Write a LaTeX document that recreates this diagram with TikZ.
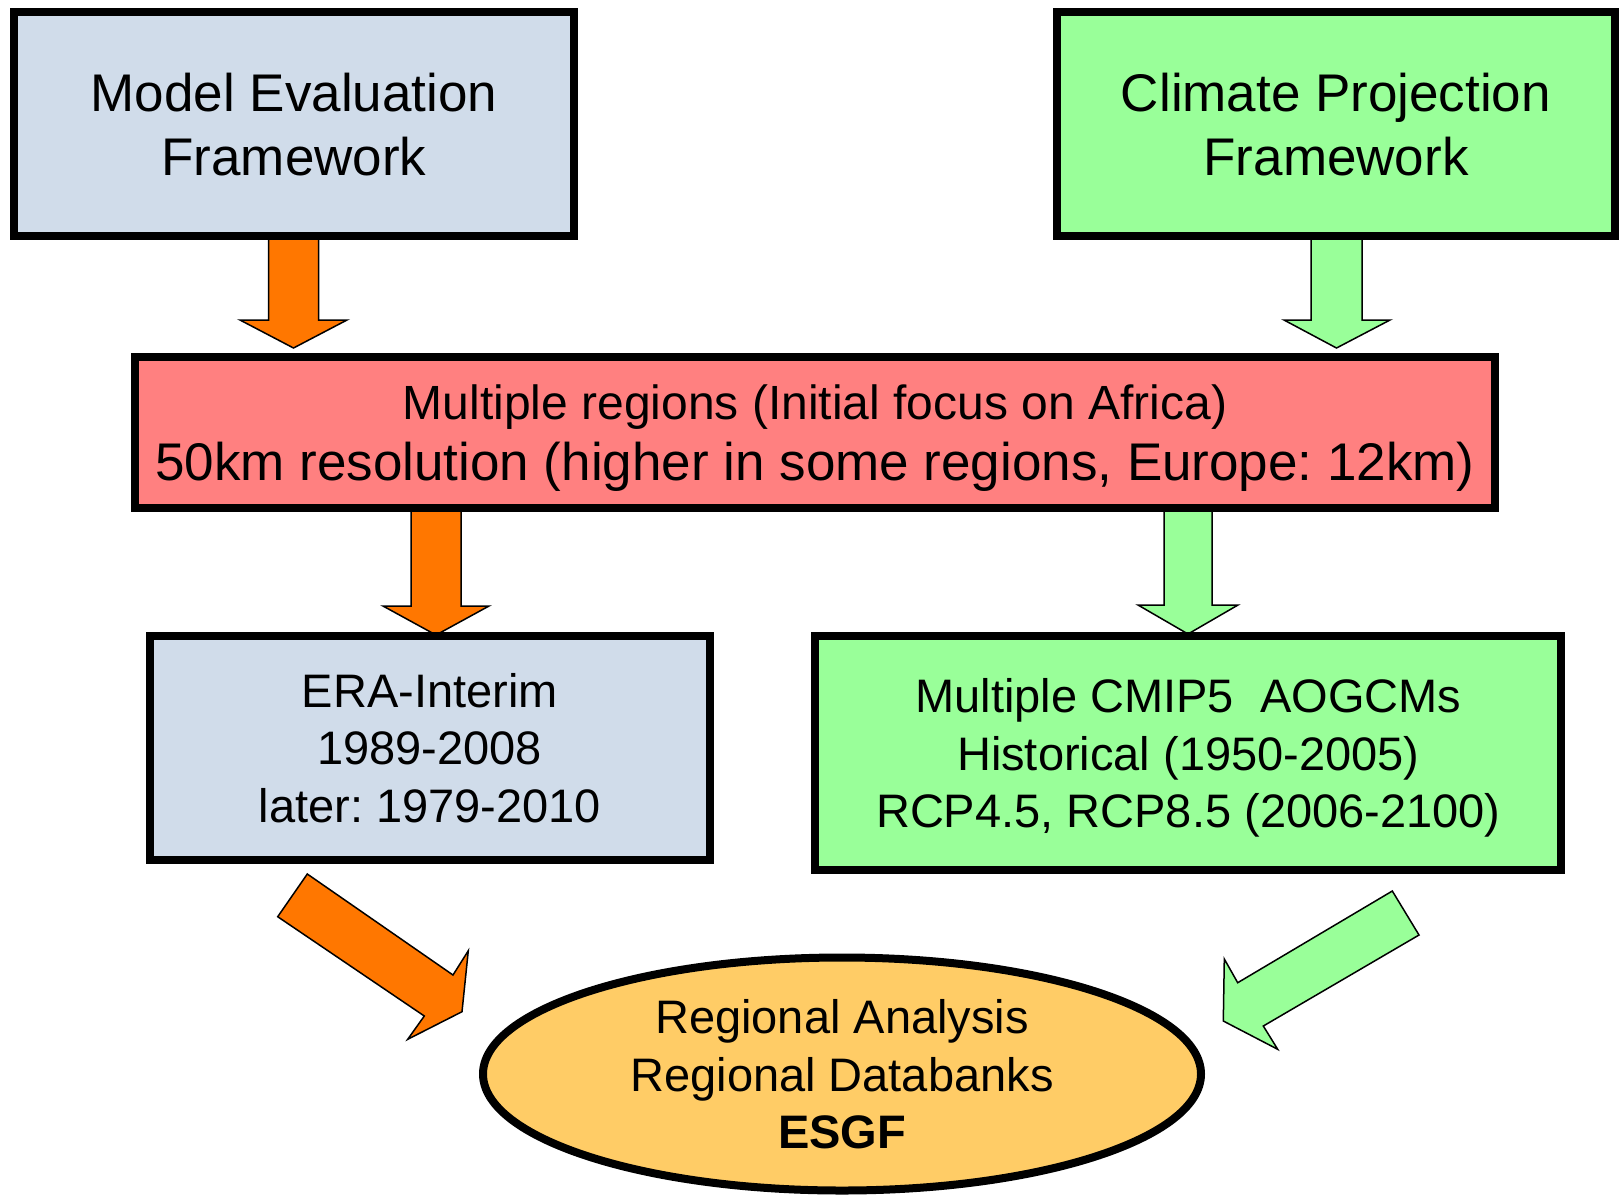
\documentclass[tikz,border=0pt]{standalone}
\usepackage{fontspec}
\setmainfont{Liberation Sans}
\usetikzlibrary{shapes.geometric}
\definecolor{bluegray}{RGB}{208,220,234}
\definecolor{lgreen}{RGB}{153,255,153}
\definecolor{salmon}{RGB}{255,128,128}
\definecolor{orng}{RGB}{255,119,0}
\definecolor{gold}{RGB}{255,204,102}
\frenchspacing
\begin{document}
\begin{tikzpicture}[x=1pt,y=-1pt,
  box/.style={draw=black, line width=8pt, inner sep=0pt, align=center, text depth=0pt},
  bigtext/.style={font=\fontsize{53}{64}\selectfont},
  midtext/.style={font=\fontsize{47}{57.5}\selectfont},
  blockarrow/.style={draw=black, line width=1.5pt, line join=miter}]
\useasboundingbox (0,0) rectangle (1622,1195);
\fill[white] (0,0) rectangle (1622,1195);

% vertical block arrows
\path[blockarrow, fill=orng] (268.5,230) -- (318.5,230) -- (318.5,320) -- (347,320) -- (293.5,348) -- (240,320) -- (268.5,320) -- cycle;
\path[blockarrow, fill=lgreen] (1311,230) -- (1362,230) -- (1362,320) -- (1390,320) -- (1336.5,348) -- (1284,320) -- (1311,320) -- cycle;
\path[blockarrow, fill=orng] (411,502) -- (461,502) -- (461,606) -- (489,606) -- (436,635) -- (383,606) -- (411,606) -- cycle;
\path[blockarrow, fill=lgreen] (1164,502) -- (1212,502) -- (1212,605) -- (1238,605) -- (1188,634) -- (1138,605) -- (1164,605) -- cycle;

% diagonal block arrows
\path[blockarrow, fill=orng] (307.3,874) -- (453,975) -- (468.3,950.7) -- (462,1011.7) -- (407.7,1039.3) -- (424.3,1016) -- (277.7,916.7) -- cycle;
\path[blockarrow, fill=lgreen] (1392.3,891) -- (1419,935) -- (1263.3,1026) -- (1277.7,1049.3) -- (1223.3,1021) -- (1224.3,959) -- (1237.7,982.7) -- cycle;

% boxes
\node[box, fill=bluegray, bigtext, minimum width=560pt, minimum height=224pt] (mef) at (294,124) {Model Evaluation\\Framework};
\node[box, fill=lgreen, bigtext, minimum width=558pt, minimum height=224pt] (cpf) at (1336,124) {Climate Projection\\Framework};
\node[box, fill=salmon, font=\fontsize{48}{61}\selectfont, minimum width=1360pt, minimum height=151pt] (reg) at (815,432.2) {Multiple regions (Initial focus on Africa)\\{\fontsize{53}{61}\selectfont 50km resolution (higher in some regions, Europe: 12km)}};
\node[box, fill=bluegray, midtext, minimum width=559.7pt, minimum height=223.7pt] (era) at (429.8,747.8) {ERA-Interim\\1989-2008\\later: 1979-2010};
\node[box, fill=lgreen, midtext, minimum width=746pt, minimum height=234.3pt] (cmip) at (1188.3,753.2) {Multiple CMIP5\ \ AOGCMs\\Historical (1950-2005)\\RCP4.5, RCP8.5 (2006-2100)};
\node[box, ellipse, fill=gold, midtext, minimum width=718pt, minimum height=233pt] (esgf) at (842,1074) {Regional Analysis\\Regional Databanks\\\textbf{ESGF}};
\end{tikzpicture}
\end{document}
